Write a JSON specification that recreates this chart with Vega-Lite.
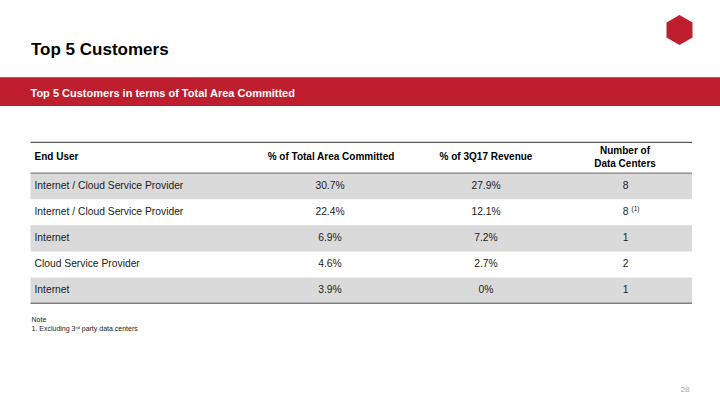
{
  "$schema": "https://vega.github.io/schema/vega-lite/v6.json",
  "width": 720,
  "height": 405,
  "autosize": {"type": "fit", "contains": "padding"},
  "padding": 0,
  "background": "white",
  "config": {"view": {"stroke": null}, "font": "Liberation Sans", "text": {"font": "Liberation Sans"}},
  "datasets": {
    "rows": [
      {"rank": 1, "user": "Internet / Cloud Service Provider", "area": "30.7%", "revenue": "27.9%", "dc": "8", "dcNote": ""},
      {"rank": 2, "user": "Internet / Cloud Service Provider", "area": "22.4%", "revenue": "12.1%", "dc": "8", "dcNote": "(1)"},
      {"rank": 3, "user": "Internet", "area": "6.9%", "revenue": "7.2%", "dc": "1", "dcNote": ""},
      {"rank": 4, "user": "Cloud Service Provider", "area": "4.6%", "revenue": "2.7%", "dc": "2", "dcNote": ""},
      {"rank": 5, "user": "Internet", "area": "3.9%", "revenue": "0%", "dc": "1", "dcNote": ""}
    ]
  },
  "layer": [
    {
      "data": {"values": [{}]},
      "mark": {"type": "rect", "color": "#BE1E2D"},
      "encoding": {
        "x": {"datum": 0, "type": "quantitative", "scale": {"domain": [0, 720], "nice": false, "zero": false}, "axis": null},
        "x2": {"datum": 720},
        "y": {"datum": -3.177, "type": "quantitative", "scale": {"domain": [-6.142, 9.393], "nice": false, "zero": false, "reverse": true}, "axis": null},
        "y2": {"datum": -2.076}
      }
    },
    {
      "data": {"name": "rows"},
      "transform": [{"filter": "datum.rank % 2 == 1"}],
      "mark": {"type": "rule", "color": "#DADADA", "strokeWidth": 26.1},
      "encoding": {
        "x": {"datum": 30.5, "type": "quantitative"},
        "x2": {"datum": 692},
        "y": {"field": "rank", "type": "quantitative"}
      }
    },
    {
      "data": {"values": [{}]},
      "mark": {"type": "rule", "color": "#595959", "strokeWidth": 1.3},
      "encoding": {"x": {"datum": 30.5, "type": "quantitative"}, "x2": {"datum": 692}, "y": {"datum": -0.684, "type": "quantitative"}}
    },
    {
      "data": {"values": [{}]},
      "mark": {"type": "rule", "color": "#7F7F7F", "strokeWidth": 1.3},
      "encoding": {"x": {"datum": 30.5, "type": "quantitative"}, "x2": {"datum": 692}, "y": {"datum": 0.5, "type": "quantitative"}}
    },
    {
      "data": {"values": [{}]},
      "mark": {"type": "rule", "color": "#7F7F7F", "strokeWidth": 1.3},
      "encoding": {"x": {"datum": 30.5, "type": "quantitative"}, "x2": {"datum": 692}, "y": {"datum": 5.49, "type": "quantitative"}}
    },
    {
      "data": {"values": [{"t": "Top 5 Customers"}]},
      "mark": {"type": "text", "align": "left", "baseline": "alphabetic", "fontSize": 17, "fontWeight": "bold", "color": "#000000"},
      "encoding": {"x": {"datum": 31, "type": "quantitative"}, "y": {"datum": -4.033, "type": "quantitative"}, "text": {"field": "t"}}
    },
    {
      "data": {"values": [{"t": "Top 5 Customers in terms of Total Area Committed"}]},
      "mark": {"type": "text", "align": "left", "baseline": "alphabetic", "fontSize": 11, "fontWeight": "bold", "color": "#FFFFFF"},
      "encoding": {"x": {"datum": 30.5, "type": "quantitative"}, "y": {"datum": -2.433, "type": "quantitative"}, "text": {"field": "t"}}
    },
    {
      "data": {"values": [{"t": "End User"}]},
      "mark": {"type": "text", "align": "left", "baseline": "middle", "fontSize": 10, "fontWeight": "bold", "color": "#000000"},
      "encoding": {"x": {"datum": 34.5, "type": "quantitative"}, "y": {"datum": -0.101, "type": "quantitative"}, "text": {"field": "t"}}
    },
    {
      "data": {"values": [{"t": "% of Total Area Committed"}]},
      "mark": {"type": "text", "align": "center", "baseline": "middle", "fontSize": 10, "fontWeight": "bold", "color": "#000000"},
      "encoding": {"x": {"datum": 331, "type": "quantitative"}, "y": {"datum": -0.101, "type": "quantitative"}, "text": {"field": "t"}}
    },
    {
      "data": {"values": [{"t": "% of 3Q17 Revenue"}]},
      "mark": {"type": "text", "align": "center", "baseline": "middle", "fontSize": 10, "fontWeight": "bold", "color": "#000000"},
      "encoding": {"x": {"datum": 486, "type": "quantitative"}, "y": {"datum": -0.101, "type": "quantitative"}, "text": {"field": "t"}}
    },
    {
      "data": {"values": [{"t": "Number of\nData Centers"}]},
      "mark": {"type": "text", "align": "center", "baseline": "middle", "fontSize": 10, "fontWeight": "bold", "color": "#000000", "lineBreak": "\n", "lineHeight": 12.5},
      "encoding": {"x": {"datum": 625, "type": "quantitative"}, "y": {"datum": -0.331, "type": "quantitative"}, "text": {"field": "t"}}
    },
    {
      "data": {"name": "rows"},
      "mark": {"type": "text", "align": "left", "baseline": "middle", "fontSize": 10.3, "color": "#222222"},
      "encoding": {"x": {"datum": 34.5, "type": "quantitative"}, "y": {"field": "rank", "type": "quantitative"}, "text": {"field": "user"}}
    },
    {
      "data": {"name": "rows"},
      "mark": {"type": "text", "align": "center", "baseline": "middle", "fontSize": 10.3, "color": "#222222"},
      "encoding": {"x": {"datum": 330, "type": "quantitative"}, "y": {"field": "rank", "type": "quantitative"}, "text": {"field": "area"}}
    },
    {
      "data": {"name": "rows"},
      "mark": {"type": "text", "align": "center", "baseline": "middle", "fontSize": 10.3, "color": "#222222"},
      "encoding": {"x": {"datum": 486, "type": "quantitative"}, "y": {"field": "rank", "type": "quantitative"}, "text": {"field": "revenue"}}
    },
    {
      "data": {"name": "rows"},
      "mark": {"type": "text", "align": "center", "baseline": "middle", "fontSize": 10.3, "color": "#222222"},
      "encoding": {"x": {"datum": 625.5, "type": "quantitative"}, "y": {"field": "rank", "type": "quantitative"}, "text": {"field": "dc"}}
    },
    {
      "data": {"name": "rows"},
      "transform": [{"filter": "datum.dcNote != ''"}],
      "mark": {"type": "text", "align": "left", "baseline": "middle", "fontSize": 6.5, "color": "#222222", "dy": -3.5},
      "encoding": {"x": {"datum": 631.5, "type": "quantitative"}, "y": {"field": "rank", "type": "quantitative"}, "text": {"field": "dcNote"}}
    },
    {
      "data": {"values": [{"t": "Note"}]},
      "mark": {"type": "text", "align": "left", "baseline": "middle", "fontSize": 7, "color": "#222222"},
      "encoding": {"x": {"datum": 31.5, "type": "quantitative"}, "y": {"datum": 6.132, "type": "quantitative"}, "text": {"field": "t"}}
    },
    {
      "data": {"values": [{"t": "1. Excluding 3ʳᵈ party data centers"}]},
      "mark": {"type": "text", "align": "left", "baseline": "middle", "fontSize": 7, "color": "#222222"},
      "encoding": {"x": {"datum": 31.5, "type": "quantitative"}, "y": {"datum": 6.49, "type": "quantitative"}, "text": {"field": "t"}}
    },
    {
      "data": {"values": [{"t": "28"}]},
      "mark": {"type": "text", "align": "center", "baseline": "middle", "fontSize": 8, "color": "#A6A6A6"},
      "encoding": {"x": {"datum": 685, "type": "quantitative"}, "y": {"datum": 8.817, "type": "quantitative"}, "text": {"field": "t"}}
    },
    {
      "data": {"values": [{}]},
      "mark": {"type": "point", "filled": true, "color": "#BE1E2D", "opacity": 1, "size": 900, "shape": "M0,-1L0.866,-0.5L0.866,0.5L0,1L-0.866,0.5L-0.866,-0.5Z"},
      "encoding": {"x": {"datum": 679.5, "type": "quantitative"}, "y": {"datum": -4.99, "type": "quantitative"}}
    }
  ]
}
